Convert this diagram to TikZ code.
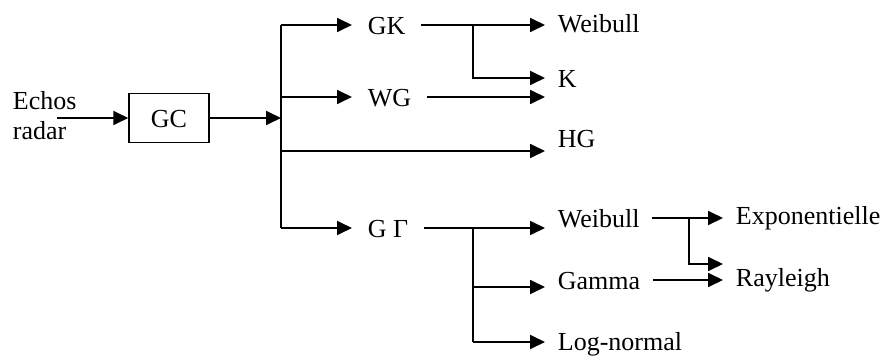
\documentclass[tikz,border=0pt]{standalone}
\usepackage{fontspec}
\setmainfont{Liberation Serif}
\usetikzlibrary{arrows.meta}
\usetikzlibrary{positioning}

\begin{document}
\begin{tikzpicture}[x=1pt, y=-1pt, line width=1.8pt,
    >={Triangle[length=15pt,width=14pt]},
    every node/.style={font=\fontsize{26}{30}\selectfont, inner ysep=0pt, text height=18pt, text depth=0pt},
    lbl/.style={anchor=west, inner xsep=12pt},
    mid/.style={anchor=west, inner xsep=15pt},
    box/.style={draw, line width=1.5pt, minimum width=80pt, minimum height=49pt}]
  \useasboundingbox (0,0) rectangle (885,356);
  % input and GC block
  \node (echos) [anchor=north west, inner sep=0pt, align=left, text height=, text depth=] at (12,91) {Echos\\radar};
  \coordinate (src) at (57,118);
  \node (gc) [box] at (169,118) {GC};
  % bus
  \coordinate (b1) at (281,25);
  \coordinate (b2) at (281,97);
  \coordinate (bm) at (281,118);
  \coordinate (b3) at (281,151);
  \coordinate (b4) at (281,228);
  % first level
  \node (gk) [mid] at (352,25) {GK};
  \node (wg) [mid] at (352,97) {WG};
  \node (gg) [mid] at (352,228) {G Γ};
  % second level
  \node (wb1) [lbl] at (545,23) {Weibull};
  \node (k)   [lbl] at (545,78) {K};
  \node (hg)  [lbl] at (545,138) {HG};
  \node (wb2) [lbl] at (545,218) {Weibull};
  \node (ga)  [lbl] at (545,280) {Gamma};
  \node (ln)  [lbl] at (545,341) {Log-normal};
  % third level
  \node (ex) [lbl] at (723,215) {Exponentielle};
  \node (ry) [lbl] at (723,277) {Rayleigh};
  \coordinate (j1) at (473,25);
  \coordinate (j2) at (473,228);
  \coordinate (j3) at (473,287);
  \coordinate (j4) at (473,342);
  \coordinate (j5) at (689,218);
  \coordinate (j6) at (689,264);

  \draw[->] (src) -- (gc);
  \draw[->] (gc) -- (bm);
  \draw (b1) -- (b4);
  \draw[->] (b1) -- (b1 -| gk.west);
  \draw[->] (b2) -- (b2 -| wg.west);
  \draw[->] (b3) -- (b3 -| hg.west);
  \draw[->] (b4) -- (b4 -| gg.west);
  \draw[->] (gk.east) -- (gk.east -| wb1.west);
  \draw[->] (j1) |- (k.west);
  \draw[->] (wg.east) -- (wg.east -| k.west);
  \draw[->] (gg.east) -- (gg.east -| wb2.west);
  \draw (j2) -- (j4);
  \draw[->] (j3) -- (j3 -| ga.west);
  \draw[->] (j4) -- (j4 -| ln.west);
  \draw[->] (wb2.east) -- (wb2.east -| ex.west);
  \draw[->] (j5) -- (j6) -- (j6 -| ry.west);
  \draw[->] (ga.east) -- (ga.east -| ry.west);
\end{tikzpicture}
\end{document}
